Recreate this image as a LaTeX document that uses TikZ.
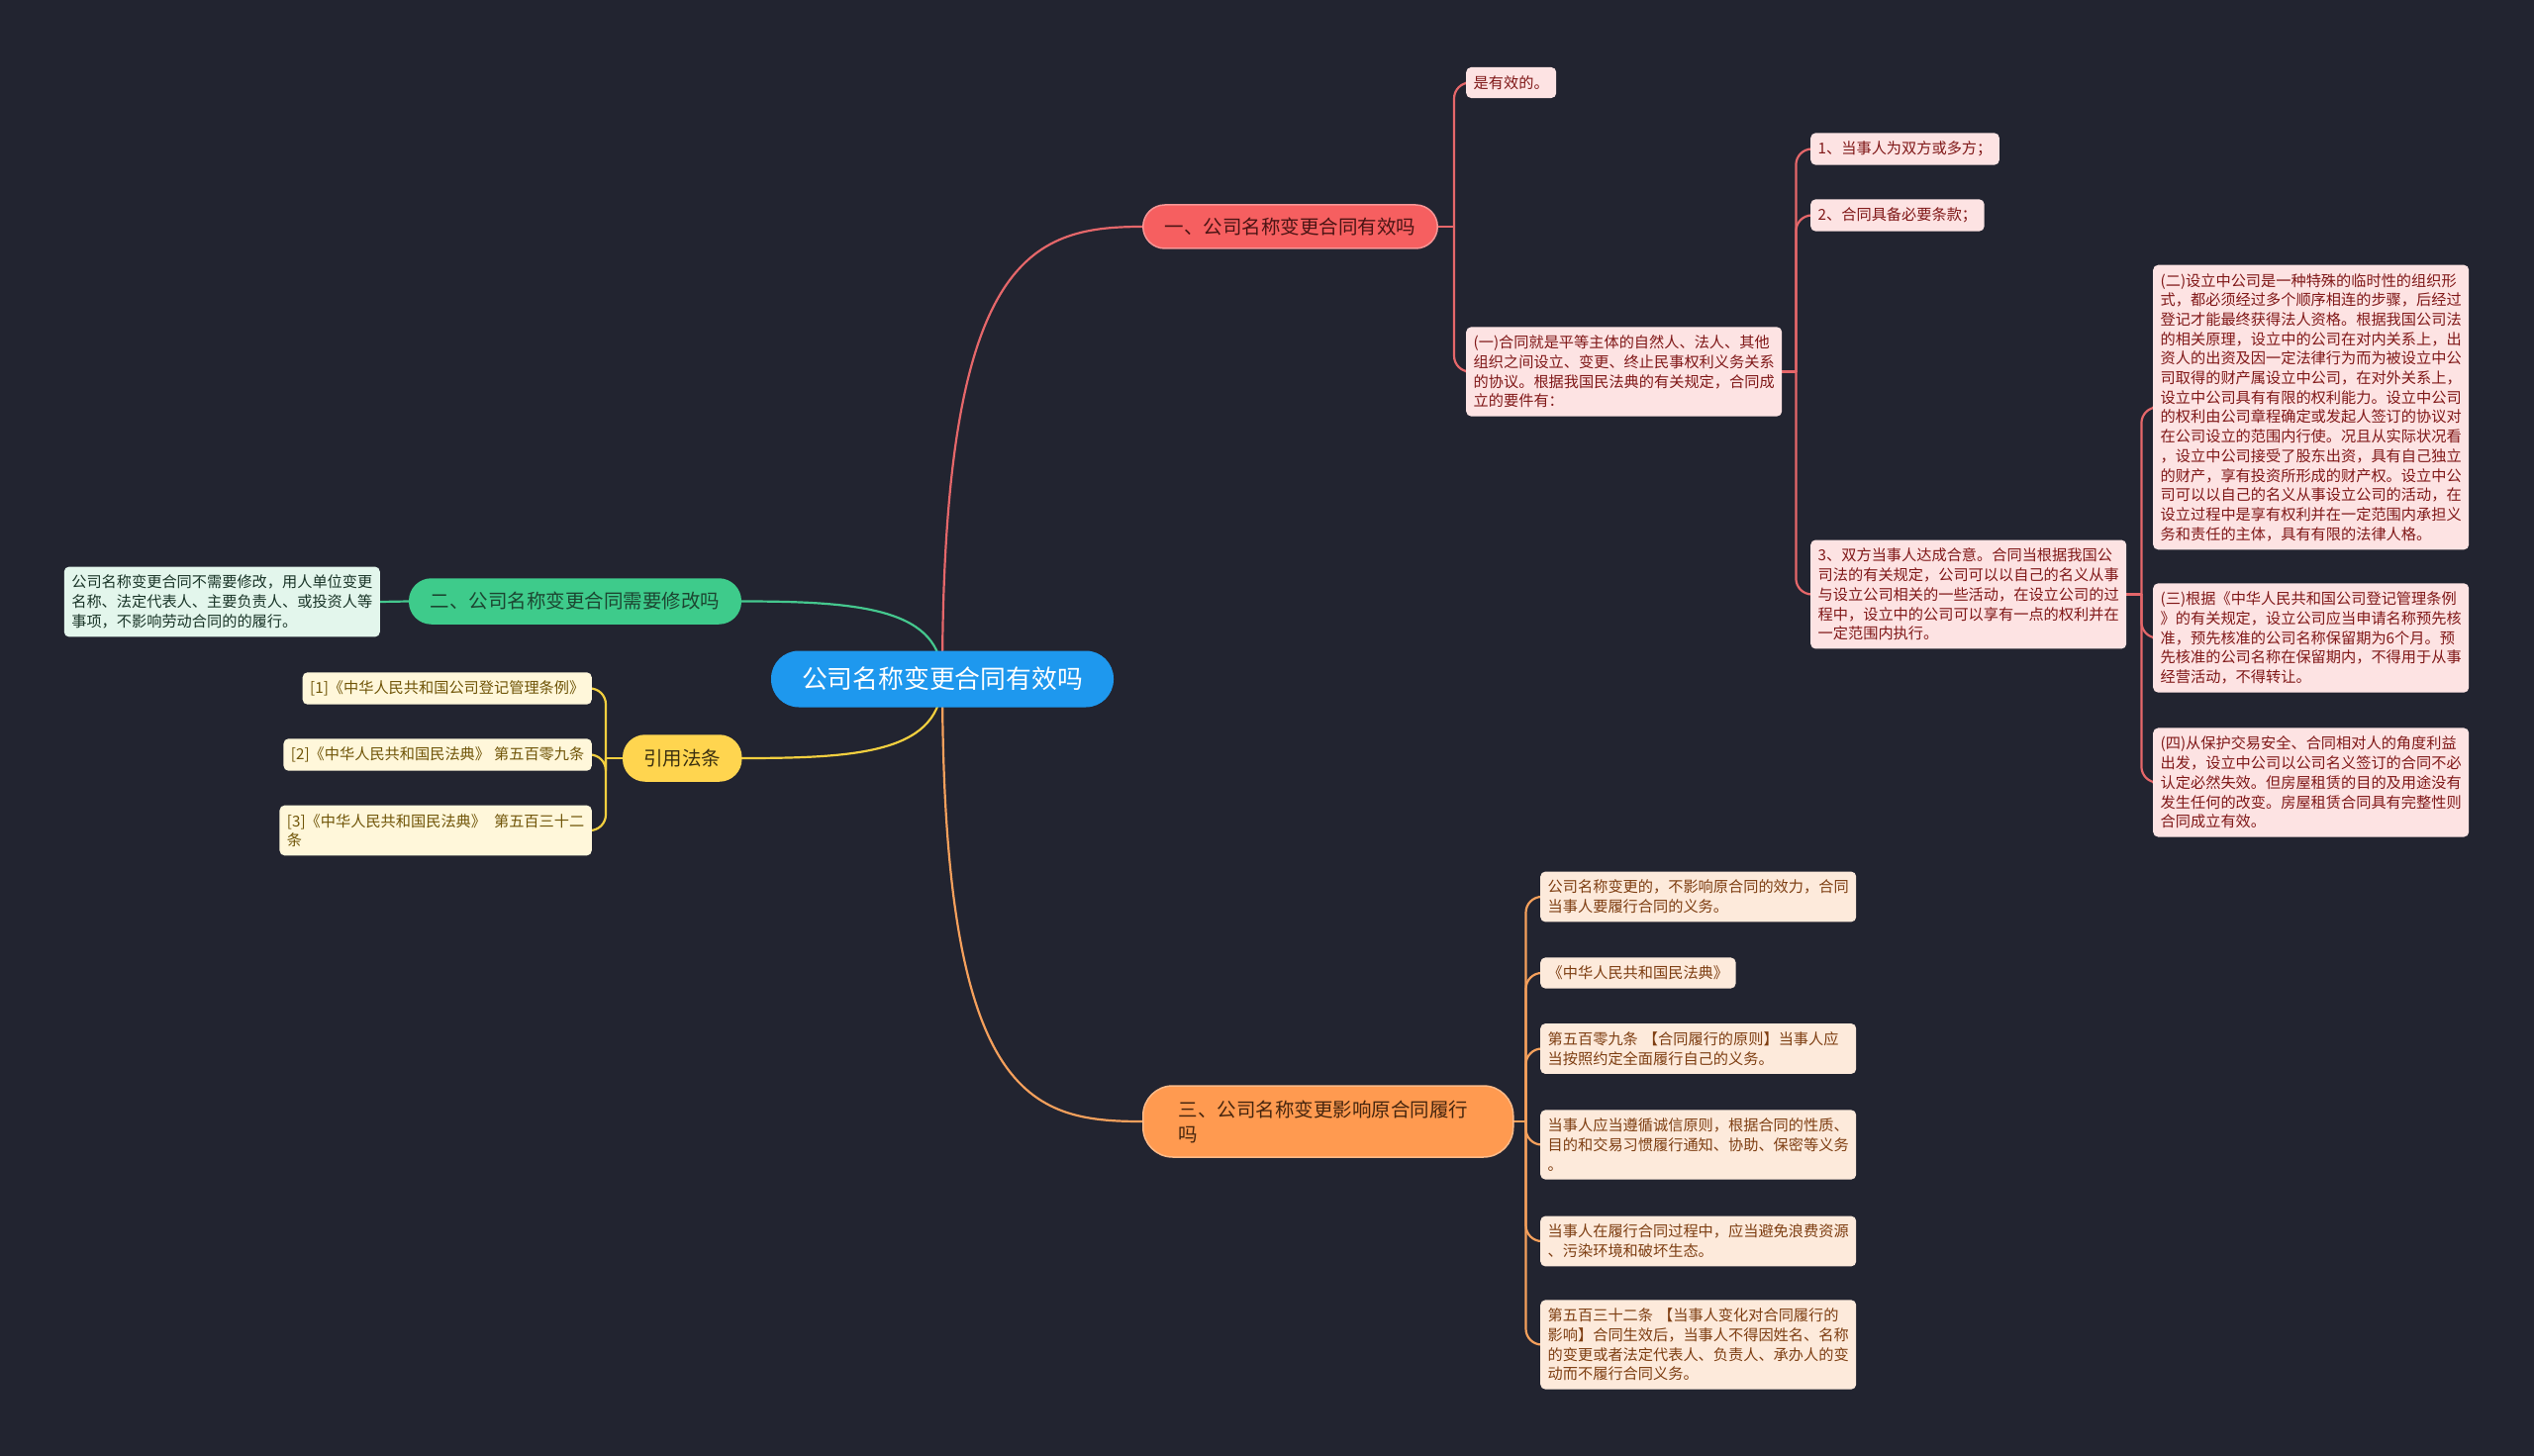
\documentclass[tikz,border=0pt]{standalone}
\usepackage{fontspec}
\setmainfont{Noto Sans CJK SC}
\pgfdeclarelayer{back}
\pgfdeclarelayer{links}
\pgfsetlayers{back,links,main}
\definecolor{bgc}{HTML}{222430}
\definecolor{cblue}{HTML}{1E98EE}
\definecolor{rfill}{HTML}{F65F60}
\definecolor{rbord}{HTML}{F79595}
\definecolor{rtext}{HTML}{4A1414}
\definecolor{rline}{HTML}{E5676A}
\definecolor{rlight}{HTML}{FDE3E3}
\definecolor{rdtext}{HTML}{801818}
\definecolor{gfill}{HTML}{3ECB8B}
\definecolor{gtext}{HTML}{1C4631}
\definecolor{gline}{HTML}{45C88E}
\definecolor{glight}{HTML}{E3F6EC}
\definecolor{gdtext}{HTML}{1A3528}
\definecolor{yfill}{HTML}{FFD54F}
\definecolor{ytext}{HTML}{3B3010}
\definecolor{yline}{HTML}{F2CF3F}
\definecolor{ylight}{HTML}{FFF7DA}
\definecolor{ydtext}{HTML}{705508}
\definecolor{ofill}{HTML}{FF9A50}
\definecolor{obord}{HTML}{FFBA88}
\definecolor{otext}{HTML}{45250E}
\definecolor{oline}{HTML}{F5A05C}
\definecolor{olight}{HTML}{FDEADB}
\definecolor{odtext}{HTML}{7E3E12}
\tikzset{
  rootbox/.style={fill=cblue, text=white, rounded corners=28pt, minimum width=346pt,
    minimum height=57pt, inner sep=0pt, font=\fontsize{25.8}{30}\selectfont},
  branchbox/.style={rounded corners=22pt, minimum height=44pt, inner xsep=22pt, inner ysep=0pt,
    font=\fontsize{19.5}{25}\selectfont, line width=1.5pt},
  detailbox/.style={rounded corners=5pt, inner xsep=7.5pt, inner ysep=8.5pt, align=left,
    font=\fontsize{15.2}{19.7}\selectfont},
  fullw/.style={text width=304pt},
  rdet/.style={detailbox, fill=rlight, text=rdtext},
  gdet/.style={detailbox, fill=glight, text=gdtext},
  ydet/.style={detailbox, fill=ylight, text=ydtext},
  odet/.style={detailbox, fill=olight, text=odtext},
  link/.style={line width=2.2pt, line cap=round},
  elbow/.style={link, rounded corners=16pt},
}
\begin{document}
\begin{tikzpicture}[x=1pt, y=-1pt]
\begin{pgfonlayer}{back}
\fill[bgc] (0,0) rectangle (2560,1471);
\end{pgfonlayer}
\useasboundingbox (0,0) rectangle (2560,1471);

% root
\node[rootbox] (root) at (952,686) {公司名称变更合同有效吗};

% branches
\node[branchbox, fill=rfill, draw=rbord, text=rtext, anchor=west] (b1) at (1154,229) {一、公司名称变更合同有效吗};
\node[branchbox, fill=gfill, draw=gfill, text=gtext, anchor=east, minimum height=45pt, inner xsep=21pt] (b2) at (749,607.5) {二、公司名称变更合同需要修改吗};
\node[branchbox, fill=yfill, draw=yfill, text=ytext, anchor=west, minimum height=46pt, inner xsep=20.5pt] (b4) at (629,766) {引用法条};
\node[branchbox, fill=ofill, draw=obord, text=otext, anchor=west, minimum height=72pt, inner xsep=36pt,
  rounded corners=30pt, align=left, text width=302pt] (b3) at (1154,1133) {三、公司名称变更影响原合同履行\\吗};

% branch 1 details
\node[rdet, anchor=west] (r1) at (1481,83.5) {是有效的。};
\node[rdet, fullw, anchor=west] (r2) at (1481,375.5) {(一)合同就是平等主体的自然人、法人、其他\\组织之间设立、变更、终止民事权利义务关系\\的协议。根据我国民法典的有关规定，合同成\\立的要件有：};
\node[rdet, anchor=west] (r21) at (1829,150.5) {1、当事人为双方或多方；};
\node[rdet, anchor=west] (r22) at (1829,217.5) {2、合同具备必要条款；};
\node[rdet, fullw, anchor=west] (r23) at (1829,600.5) {3、双方当事人达成合意。合同当根据我国公\\司法的有关规定，公司可以以自己的名义从事\\与设立公司相关的一些活动，在设立公司的过\\程中，设立中的公司可以享有一点的权利并在\\一定范围内执行。};
\node[rdet, fullw, anchor=west] (r231) at (2175,411.5) {(二)设立中公司是一种特殊的临时性的组织形\\式，都必须经过多个顺序相连的步骤，后经过\\登记才能最终获得法人资格。根据我国公司法\\的相关原理，设立中的公司在对内关系上，出\\资人的出资及因一定法律行为而为被设立中公\\司取得的财产属设立中公司，在对外关系上，\\设立中公司具有有限的权利能力。设立中公司\\的权利由公司章程确定或发起人签订的协议对\\在公司设立的范围内行使。况且从实际状况看\\，设立中公司接受了股东出资，具有自己独立\\的财产，享有投资所形成的财产权。设立中公\\司可以以自己的名义从事设立公司的活动，在\\设立过程中是享有权利并在一定范围内承担义\\务和责任的主体，具有有限的法律人格。};
\node[rdet, fullw, anchor=west] (r232) at (2175,644.5) {(三)根据《中华人民共和国公司登记管理条例\\》的有关规定，设立公司应当申请名称预先核\\准，预先核准的公司名称保留期为6个月。预\\先核准的公司名称在保留期内，不得用于从事\\经营活动，不得转让。};
\node[rdet, fullw, anchor=west] (r233) at (2175,790.5) {(四)从保护交易安全、合同相对人的角度利益\\出发，设立中公司以公司名义签订的合同不必\\认定必然失效。但房屋租赁的目的及用途没有\\发生任何的改变。房屋租赁合同具有完整性则\\合同成立有效。};

% branch 2 detail
\node[gdet, fullw, anchor=east] (g1) at (384,608) {公司名称变更合同不需要修改，用人单位变更\\名称、法定代表人、主要负责人、或投资人等\\事项，不影响劳动合同的的履行。};

% branch 4 (citations)
\node[ydet, anchor=east] (y1) at (598,695.5) {[1]《中华人民共和国公司登记管理条例》};
\node[ydet, anchor=east] (y2) at (598,762.5) {[2]《中华人民共和国民法典》\hspace{4pt}第五百零九条};
\node[ydet, anchor=east] (y3) at (598,839) {[3]《中华人民共和国民法典》\hspace{8pt}第五百三十二\\条};

% branch 3 details
\node[odet, fullw, anchor=west] (o1) at (1556,906) {公司名称变更的，不影响原合同的效力，合同\\当事人要履行合同的义务。};
\node[odet, anchor=west] (o2) at (1556,983) {《中华人民共和国民法典》};
\node[odet, fullw, anchor=west] (o3) at (1556,1059.5) {第五百零九条 【合同履行的原则】当事人应\\当按照约定全面履行自己的义务。};
\node[odet, fullw, anchor=west] (o4) at (1556,1156.5) {当事人应当遵循诚信原则，根据合同的性质、\\目的和交易习惯履行通知、协助、保密等义务\\。};
\node[odet, fullw, anchor=west] (o5) at (1556,1254) {当事人在履行合同过程中，应当避免浪费资源\\、污染环境和破坏生态。};
\node[odet, fullw, anchor=west] (o6) at (1556,1358.5) {第五百三十二条 【当事人变化对合同履行的\\影响】合同生效后，当事人不得因姓名、名称\\的变更或者法定代表人、负责人、承办人的变\\动而不履行合同义务。};

\begin{pgfonlayer}{links}
% root to branches
\draw[link, rline] (root.center) .. controls (952,260) and (1040,229) .. (b1.west);
\draw[link, oline] (root.center) .. controls (952,1110) and (1040,1133) .. (b3.west);
\draw[link, gline] (root.center) .. controls (952,615) and (870,607.5) .. (b2.east);
\draw[link, yline] (root.center) .. controls (952,760) and (870,766) .. (b4.east);

% branch 1
\draw[link, rline] (b1.east) -- ([xshift=16pt]b1.east);
\foreach \c in {r1,r2} \draw[elbow, rline] ([xshift=16pt]b1.east) |- (\c.west);
\draw[link, rline] (r2.east) -- ([xshift=14pt]r2.east);
\foreach \c in {r21,r22,r23} \draw[elbow, rline] ([xshift=14pt]r2.east) |- (\c.west);
\draw[link, rline] (r23.east) -- ([xshift=15pt]r23.east);
\foreach \c in {r231,r232,r233} \draw[elbow, rline] ([xshift=15pt]r23.east) |- (\c.west);

% branch 2
\draw[link, gline] (b2.west) -- (g1.east);

% branch 4
\draw[link, yline] (b4.west) -- ([xshift=-17pt]b4.west);
\foreach \c in {y1,y2,y3} \draw[elbow, yline] ([xshift=-17pt]b4.west) |- (\c.east);

% branch 3
\draw[link, oline] (b3.east) -- ([xshift=12pt]b3.east);
\foreach \c in {o1,o2,o3,o4,o5,o6} \draw[elbow, oline] ([xshift=12pt]b3.east) |- (\c.west);
\end{pgfonlayer}
\end{tikzpicture}
\end{document}
